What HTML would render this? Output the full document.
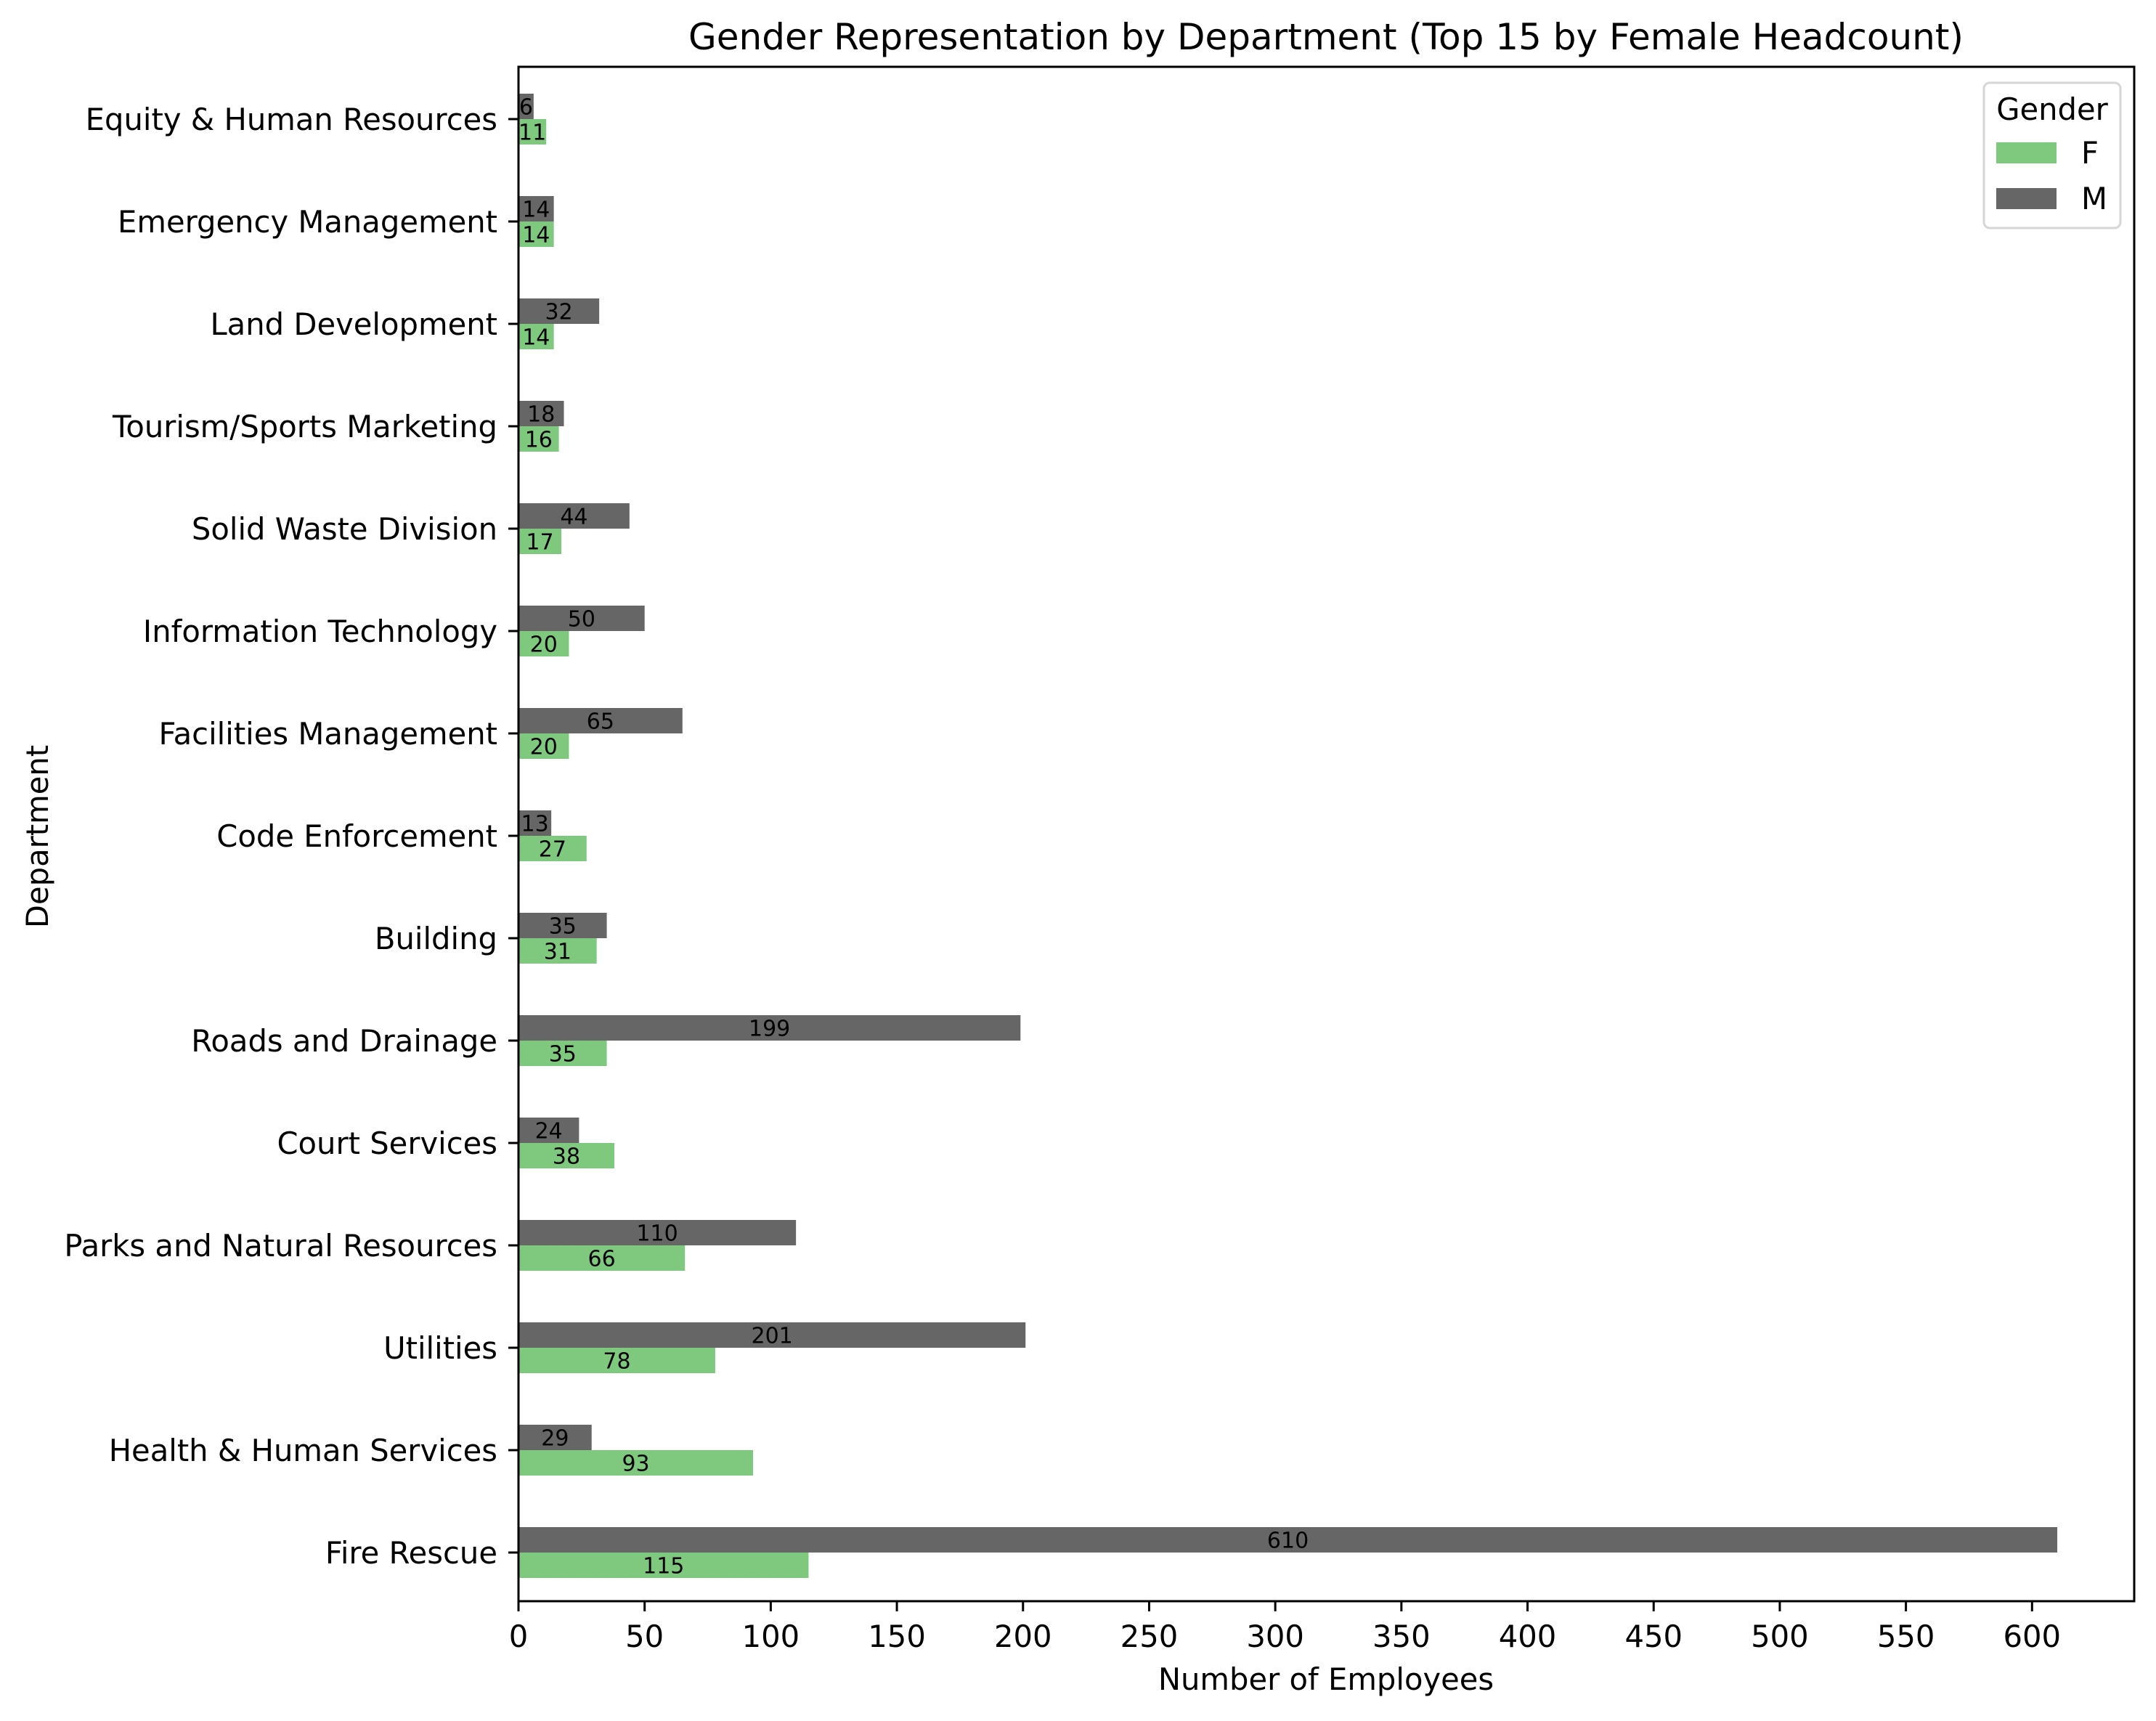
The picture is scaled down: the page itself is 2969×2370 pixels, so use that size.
<!DOCTYPE html>
<html><head><meta charset="utf-8"><style>
body{margin:0;background:#fff;}
svg text{font-family:"DejaVu Sans","Liberation Sans",sans-serif;fill:#000;}
</style></head><body>
<svg id="chart" width="2969" height="2365" xmlns="http://www.w3.org/2000/svg">
<rect width="2969" height="2365" fill="#fff"/>
<text x="1826" y="68" font-size="50" text-anchor="middle">Gender Representation by Department (Top 15 by Female Headcount)</text>
<g id="bars"></g>
<g id="axes"></g>
<text x="1826" y="2327" font-size="41.7" text-anchor="middle">Number of Employees</text>
<text x="0" y="0" font-size="41.7" text-anchor="middle" transform="translate(66,1152) rotate(-90)">Department</text>
<g>
<rect x="2732" y="114" width="188" height="200" rx="8" fill="#fff" stroke="#d6d6d6" stroke-width="3"/>
<text x="2826" y="165" font-size="41.7" text-anchor="middle">Gender</text>
<rect x="2749" y="196" width="83" height="29" fill="#7fc97f"/>
<text x="2866" y="225" font-size="41.7">F</text>
<rect x="2749" y="259" width="83" height="29" fill="#666666"/>
<text x="2866" y="288" font-size="41.7">M</text>
</g>
</svg>
<script>
const departments=["Equity & Human Resources","Emergency Management","Land Development","Tourism/Sports Marketing","Solid Waste Division","Information Technology","Facilities Management","Code Enforcement","Building","Roads and Drainage","Court Services","Parks and Natural Resources","Utilities","Health & Human Services","Fire Rescue"];
const female=[11,14,14,16,17,20,20,27,31,35,38,66,78,93,115];
const male=[6,14,32,18,44,50,65,13,35,199,24,110,201,29,610];
const xTicks=[0,50,100,150,200,250,300,350,400,450,500,550,600];

const L=714,R=2939,T=92,B=2205;
const x0=0,x1=640.5;
function xs(v){return L+(v-x0)/(x1-x0)*(R-L);}
const y0=164,step=141;
function ys(i){return y0+i*step;}
const bh=35;
const NS="http://www.w3.org/2000/svg";
const bars=document.getElementById('bars'),axes=document.getElementById('axes');
function mk(tag,attrs,parent){const e=document.createElementNS(NS,tag);for(const k in attrs)e.setAttribute(k,attrs[k]);parent.appendChild(e);return e;}
departments.forEach((d,i)=>{
  const c=ys(i);
  const m=mk('rect',{x:xs(0),y:c-bh,width:xs(male[i])-xs(0),height:bh,fill:'#666666'},bars);
  
  
  const f=mk('rect',{x:xs(0),y:c,width:xs(female[i])-xs(0),height:bh,fill:'#7fc97f'},bars);
  
  
  const mt=mk('text',{x:xs(male[i]/2),y:c-bh/2+11,'font-size':30,'text-anchor':'middle'},bars);
  mt.textContent=male[i];
  
  
  const ft=mk('text',{x:xs(female[i]/2),y:c+bh/2+11,'font-size':30,'text-anchor':'middle'},bars);
  ft.textContent=female[i];
  
  
  mk('line',{x1:L-14,x2:L,y1:c,y2:c,stroke:'#000','stroke-width':3},axes);
  const yl=mk('text',{x:L-29,y:c+15,'font-size':41.7,'text-anchor':'end'},axes);
  yl.textContent=d;
  
  
});
xTicks.forEach(t=>{
  const x=xs(t);
  mk('line',{x1:x,x2:x,y1:B,y2:B+14,stroke:'#000','stroke-width':3},axes);
  const tl=mk('text',{x:x,y:B+63,'font-size':41.7,'text-anchor':'middle'},axes);
  tl.textContent=t;
  
  
});
const frame=mk('rect',{x:L,y:T,width:R-L,height:B-T,fill:'none',stroke:'#000','stroke-width':3},axes);


</script>
</body></html>
